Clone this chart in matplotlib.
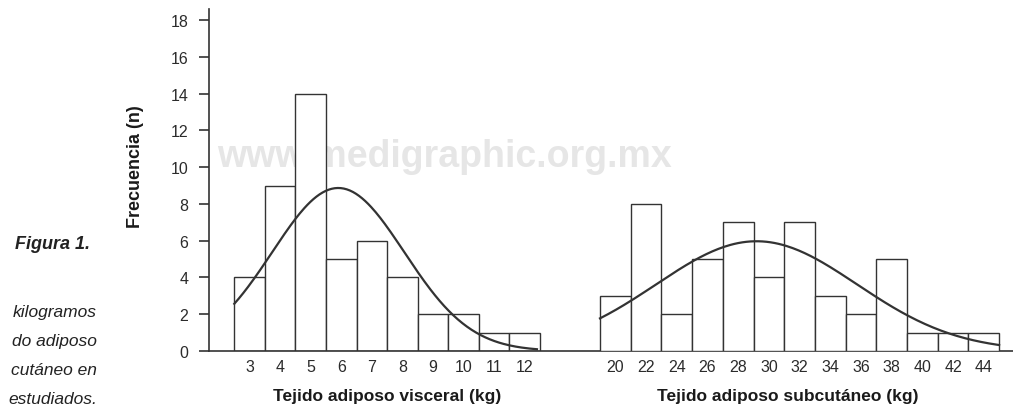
import numpy as np
import matplotlib
matplotlib.use('Agg')
import matplotlib.pyplot as plt

plt.rcParams['font.family'] = ['Liberation Sans', 'DejaVu Sans']

# Tejido adiposo visceral (kg): bin centres and counts
visceral_kg = [3, 4, 5, 6, 7, 8, 9, 10, 11, 12]
visceral_n = [4, 9, 14, 5, 6, 4, 2, 2, 1, 1]
# fitted normal curve
visceral_mean = 5.9
visceral_sd = 2.16

# Tejido adiposo subcutáneo (kg): bin centres and counts
subcut_kg = [20, 22, 24, 26, 28, 30, 32, 34, 36, 38, 40, 42, 44]
subcut_n = [3, 8, 2, 5, 7, 4, 7, 3, 2, 5, 1, 1, 1]
subcut_mean = 29.2
subcut_sd = 6.55

y_ticks = [0, 2, 4, 6, 8, 10, 12, 14, 16, 18]

caption_lines = ['kilogramos', 'do adiposo', 'cutáneo en', 'estudiados.']

W, H = 1013, 410
fig = plt.figure(figsize=(W / 100, H / 100), dpi=100)

line_col = '#333333'
text_col = '#2b2b2b'

# axes placed in pixel terms. ax1 runs the whole width so its bottom spine
# is the single unbroken baseline; ax2 sits on top for the right histogram.
bottom = (H - 352) / H
height = 342 / H
px_unit1 = 30.57   # px per kg, left panel
px_unit2 = 15.35   # px per kg, right panel
left1, right1 = 209, 1013
left2, right2 = 565, 1013
ax1 = fig.add_axes([left1 / W, bottom, (right1 - left1) / W, height])
ax2 = fig.add_axes([left2 / W, bottom, (right2 - left2) / W, height])

for ax in (ax1, ax2):
    ax.set_facecolor('none')
    ax.set_ylim(0, 18.6)
    for s in ('top', 'right'):
        ax.spines[s].set_visible(False)
    ax.tick_params(axis='x', length=0, pad=6, labelsize=11.5, labelcolor=text_col)

ax2.spines['left'].set_visible(False)
ax2.spines['bottom'].set_visible(False)
ax2.set_yticks([])

ax1.spines['bottom'].set_color(line_col)
ax1.spines['bottom'].set_linewidth(1.2)
ax1.spines['left'].set_color(line_col)
ax1.spines['left'].set_linewidth(1.2)
ax1.set_yticks(y_ticks)
ax1.tick_params(axis='y', length=7, width=1.2, color=line_col, pad=8,
                labelsize=11.5, labelcolor=text_col)

# left histogram
ax1.set_xlim(2.5 - (234.3 - left1) / px_unit1, 2.5 + (right1 - 234.3) / px_unit1)
ax1.bar(visceral_kg, visceral_n, width=1, color='white', edgecolor=line_col,
        linewidth=1.0, zorder=2)
ax1.set_xticks(visceral_kg)
xs = np.linspace(2.5, 12.4, 200)
ys = sum(visceral_n) * 1 / (visceral_sd * np.sqrt(2 * np.pi)) * \
    np.exp(-0.5 * ((xs - visceral_mean) / visceral_sd) ** 2)
ax1.plot(xs, ys, color=line_col, lw=1.6, zorder=3)

# right histogram
ax2.set_xlim(19 - (600 - left2) / px_unit2, 19 + (right2 - 600) / px_unit2)
ax2.bar(subcut_kg, subcut_n, width=2, color='white', edgecolor=line_col,
        linewidth=1.0, zorder=2)
ax2.set_xticks(subcut_kg)
xs = np.linspace(19, 45, 200)
ys = sum(subcut_n) * 2 / (subcut_sd * np.sqrt(2 * np.pi)) * \
    np.exp(-0.5 * ((xs - subcut_mean) / subcut_sd) ** 2)
ax2.plot(xs, ys, color=line_col, lw=1.6, zorder=3)

# axis labels
ax1.set_xlabel('Tejido adiposo visceral (kg)', fontsize=12.5, fontweight='bold',
               color='#1a1a1a')
ax1.xaxis.set_label_coords((387.5 - left1) / (right1 - left1), (352 - 397) / 342)
ax1.xaxis.label.set_va('center')
ax2.set_xlabel('Tejido adiposo subcutáneo (kg)', fontsize=12.5, fontweight='bold',
               color='#1a1a1a')
ax2.xaxis.set_label_coords((788 - left2) / (right2 - left2), (352 - 397) / 342)
ax2.xaxis.label.set_va('center')
ax1.set_ylabel('Frecuencia (n)', fontsize=13, fontweight='bold', color='#1a1a1a')
ax1.yaxis.set_label_coords((136 - left1) / (right1 - left1), (352 - 167) / 342)
ax1.yaxis.label.set_va('center')

# watermark behind the bars
fig.text(444 / W, 1 - 157 / H, 'www.medigraphic.org.mx', fontsize=27,
         fontweight='bold', color='#e6e6e6', ha='center', va='center', zorder=-1)

# caption fragments at the left edge
fig.text(90 / W, 1 - 245 / H, 'Figura 1.', fontsize=13, fontweight='bold',
         style='italic', color='#222222', ha='right', va='center')
for i, line in enumerate(caption_lines):
    fig.text(97 / W, 1 - (313 + 29 * i) / H, line, fontsize=12.5, style='italic',
             color='#222222', ha='right', va='center')

fig.savefig('out.png', dpi=100)
